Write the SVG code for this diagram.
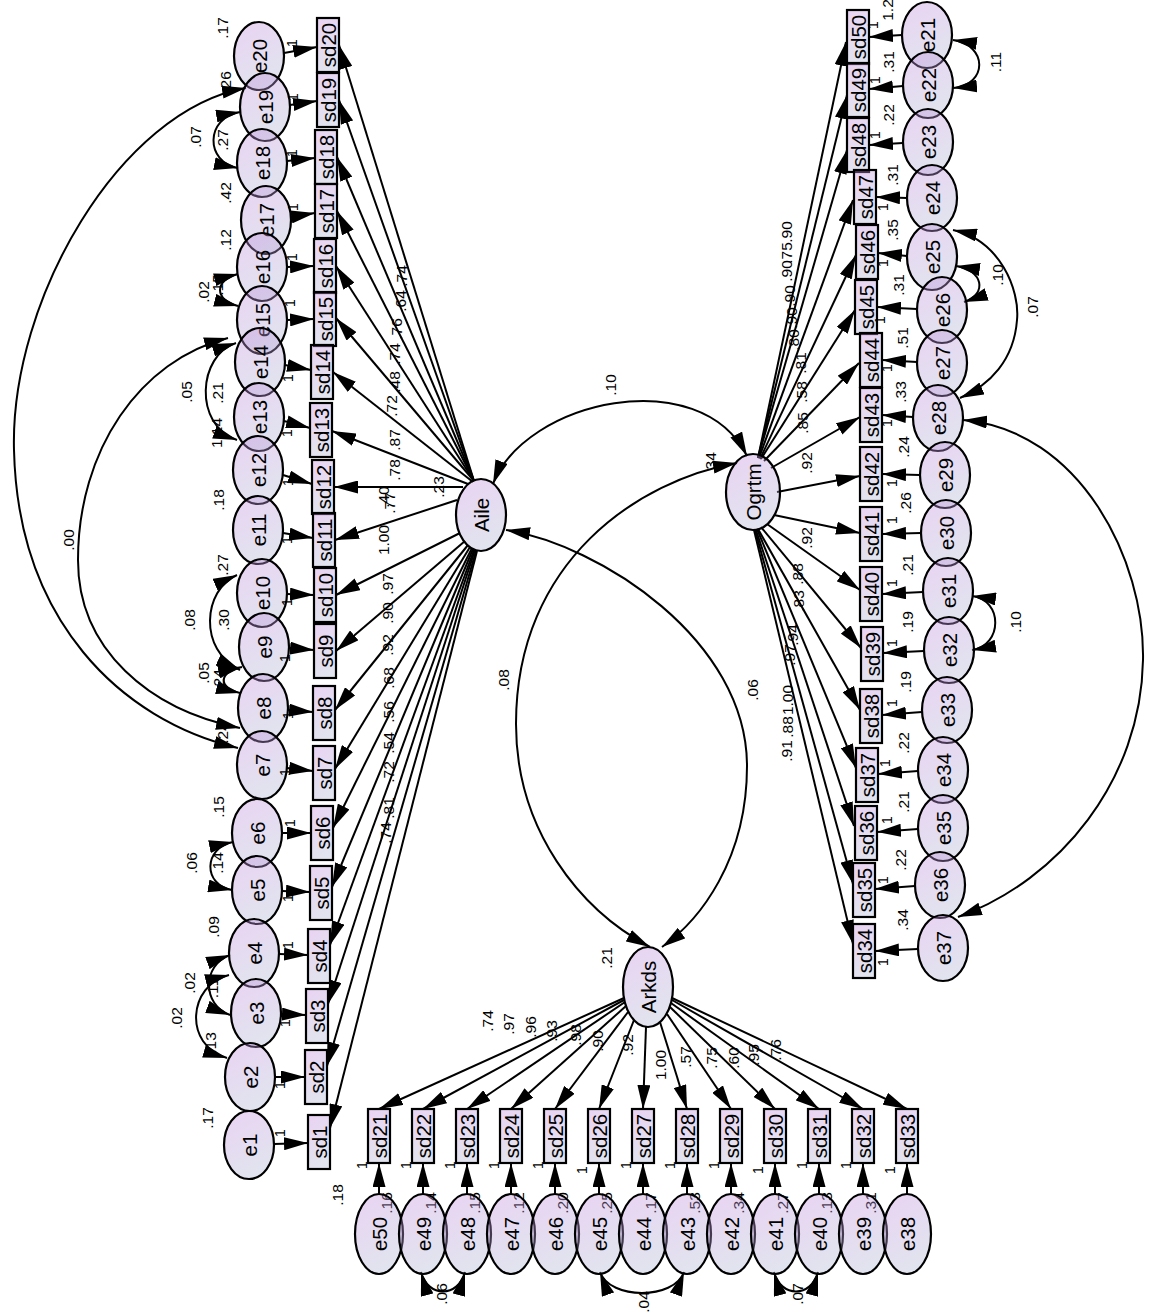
<svg xmlns="http://www.w3.org/2000/svg" width="1150" height="1314" viewBox="0 0 1150 1314">
<style>
.n{fill:url(#gf);stroke:#000;stroke-width:2.2}
.t{font-family:'Liberation Sans',Arial,sans-serif;font-size:20.5px;text-anchor:middle;dominant-baseline:central;fill:#000}
.l{font-family:'Liberation Sans',Arial,sans-serif;font-size:15.5px;text-anchor:middle;dominant-baseline:central;fill:#000}
.o{font-family:'Liberation Sans',Arial,sans-serif;font-size:14px;text-anchor:middle;dominant-baseline:central;fill:#000}
.c{fill:none;stroke:#000;stroke-width:2;marker-end:url(#ah)}
.b{fill:none;stroke:#000;stroke-width:2;marker-start:url(#ah);marker-end:url(#ah)}
</style>
<defs>
<linearGradient id="gf" x1="0" y1="0" x2="0.4" y2="1">
<stop offset="0" stop-color="#c78ae0" stop-opacity="0.38"/>
<stop offset="1" stop-color="#aab0d0" stop-opacity="0.35"/>
</linearGradient>
<marker id="ah" viewBox="0 0 24 13" refX="24" refY="6.5" markerWidth="24" markerHeight="13" markerUnits="userSpaceOnUse" orient="auto-start-reverse"><path d="M0,0 L24,6.5 L0,13 z" fill="#000"/></marker>
</defs>
<rect width="1150" height="1314" fill="#fff"/>
<g id="connectors">
<line class="c" x1="474" y1="481" x2="339" y2="45"/>
<line class="c" x1="474" y1="481" x2="339" y2="100"/>
<line class="c" x1="474" y1="481" x2="337" y2="157"/>
<line class="c" x1="474" y1="481" x2="337" y2="211"/>
<line class="c" x1="474" y1="481" x2="336" y2="266"/>
<line class="c" x1="474" y1="481" x2="336" y2="318"/>
<line class="c" x1="473" y1="482" x2="333" y2="372"/>
<line class="c" x1="468" y1="484" x2="332" y2="431"/>
<line class="c" x1="463" y1="487" x2="334" y2="487"/>
<line class="c" x1="457" y1="500" x2="335" y2="540"/>
<line class="c" x1="460" y1="533" x2="336" y2="595"/>
<line class="c" x1="465" y1="541" x2="336" y2="651"/>
<line class="c" x1="468" y1="545" x2="335" y2="710"/>
<line class="c" x1="470" y1="547" x2="335" y2="769"/>
<line class="c" x1="472" y1="548" x2="333" y2="828"/>
<line class="c" x1="473" y1="549" x2="332" y2="887"/>
<line class="c" x1="474" y1="550" x2="330" y2="945"/>
<line class="c" x1="475" y1="550" x2="328" y2="1004"/>
<line class="c" x1="476" y1="551" x2="327" y2="1066"/>
<line class="c" x1="477" y1="551" x2="330" y2="1128"/>
<line class="c" x1="758" y1="458" x2="846" y2="42"/>
<line class="c" x1="758" y1="458" x2="847" y2="95"/>
<line class="c" x1="758" y1="458" x2="847" y2="150"/>
<line class="c" x1="759" y1="458" x2="853" y2="200"/>
<line class="c" x1="760" y1="459" x2="856" y2="255"/>
<line class="c" x1="761" y1="459" x2="855" y2="310"/>
<line class="c" x1="764" y1="461" x2="859" y2="363"/>
<line class="c" x1="771" y1="468" x2="860" y2="417"/>
<line class="c" x1="777" y1="492" x2="860" y2="476"/>
<line class="c" x1="774" y1="515" x2="860" y2="533"/>
<line class="c" x1="767" y1="524" x2="860" y2="590"/>
<line class="c" x1="761" y1="527" x2="861" y2="648"/>
<line class="c" x1="758" y1="529" x2="860" y2="710"/>
<line class="c" x1="757" y1="529" x2="856" y2="768"/>
<line class="c" x1="756" y1="530" x2="854" y2="826"/>
<line class="c" x1="755" y1="530" x2="853" y2="884"/>
<line class="c" x1="754" y1="530" x2="853" y2="944"/>
<line class="c" x1="624" y1="998" x2="379" y2="1109"/>
<line class="c" x1="624" y1="1000" x2="423" y2="1109"/>
<line class="c" x1="625" y1="1002" x2="467" y2="1109"/>
<line class="c" x1="626" y1="1006" x2="511" y2="1109"/>
<line class="c" x1="628" y1="1012" x2="555" y2="1109"/>
<line class="c" x1="634" y1="1020" x2="599" y2="1109"/>
<line class="c" x1="646" y1="1027" x2="643" y2="1109"/>
<line class="c" x1="660" y1="1022" x2="687" y2="1109"/>
<line class="c" x1="667" y1="1014" x2="731" y2="1109"/>
<line class="c" x1="670" y1="1007" x2="775" y2="1109"/>
<line class="c" x1="671" y1="1003" x2="819" y2="1109"/>
<line class="c" x1="672" y1="1000" x2="863" y2="1109"/>
<line class="c" x1="672" y1="998" x2="907" y2="1109"/>
<line class="c" x1="284" y1="53" x2="317" y2="47"/>
<line class="c" x1="290" y1="105" x2="317" y2="101"/>
<line class="c" x1="287" y1="161" x2="315" y2="158"/>
<line class="c" x1="291" y1="217" x2="315" y2="213"/>
<line class="c" x1="287" y1="267" x2="314" y2="266"/>
<line class="c" x1="287" y1="320" x2="314" y2="319"/>
<line class="c" x1="285" y1="365" x2="311" y2="370"/>
<line class="c" x1="284" y1="421" x2="310" y2="428"/>
<line class="c" x1="283" y1="475" x2="312" y2="484"/>
<line class="c" x1="283" y1="533" x2="313" y2="538"/>
<line class="c" x1="287" y1="594" x2="314" y2="595"/>
<line class="c" x1="289" y1="648" x2="314" y2="650"/>
<line class="c" x1="288" y1="710" x2="313" y2="712"/>
<line class="c" x1="287" y1="768" x2="313" y2="771"/>
<line class="c" x1="282" y1="833" x2="311" y2="833"/>
<line class="c" x1="282" y1="891" x2="310" y2="892"/>
<line class="c" x1="279" y1="954" x2="308" y2="955"/>
<line class="c" x1="281" y1="1014" x2="306" y2="1015"/>
<line class="c" x1="275" y1="1077" x2="305" y2="1077"/>
<line class="c" x1="274" y1="1144" x2="308" y2="1143"/>
<line class="c" x1="902" y1="35" x2="869" y2="37"/>
<line class="c" x1="903" y1="86" x2="869" y2="89"/>
<line class="c" x1="903" y1="143" x2="869" y2="145"/>
<line class="c" x1="907" y1="198" x2="876" y2="197"/>
<line class="c" x1="907" y1="256" x2="878" y2="253"/>
<line class="c" x1="917" y1="309" x2="877" y2="307"/>
<line class="c" x1="917" y1="362" x2="882" y2="360"/>
<line class="c" x1="913" y1="417" x2="882" y2="415"/>
<line class="c" x1="920" y1="475" x2="882" y2="474"/>
<line class="c" x1="921" y1="533" x2="882" y2="534"/>
<line class="c" x1="923" y1="592" x2="882" y2="594"/>
<line class="c" x1="924" y1="651" x2="883" y2="653"/>
<line class="c" x1="922" y1="712" x2="882" y2="715"/>
<line class="c" x1="918" y1="771" x2="878" y2="774"/>
<line class="c" x1="918" y1="829" x2="877" y2="832"/>
<line class="c" x1="915" y1="886" x2="875" y2="889"/>
<line class="c" x1="918" y1="949" x2="875" y2="951"/>
<line class="c" x1="379" y1="1194" x2="379" y2="1163"/>
<line class="c" x1="423" y1="1194" x2="423" y2="1163"/>
<line class="c" x1="467" y1="1194" x2="467" y2="1163"/>
<line class="c" x1="511" y1="1194" x2="511" y2="1163"/>
<line class="c" x1="555" y1="1194" x2="555" y2="1163"/>
<line class="c" x1="599" y1="1194" x2="599" y2="1163"/>
<line class="c" x1="643" y1="1194" x2="643" y2="1163"/>
<line class="c" x1="687" y1="1194" x2="687" y2="1163"/>
<line class="c" x1="731" y1="1194" x2="731" y2="1163"/>
<line class="c" x1="775" y1="1194" x2="775" y2="1163"/>
<line class="c" x1="819" y1="1194" x2="819" y2="1163"/>
<line class="c" x1="863" y1="1194" x2="863" y2="1163"/>
<line class="c" x1="907" y1="1194" x2="907" y2="1163"/>
<path class="b" d="M493,484 C525,400 700,362 747,456"/>
<path class="b" d="M737,463 C640,480 516,560 516,724 C516,830 580,910 650,947"/>
<path class="b" d="M506,530 C600,545 747,640 747,766 C747,860 700,920 662,947"/>
<path class="b" d="M240,112 C205,118 205,162 238,168"/>
<path class="b" d="M246,88 C120,110 10,300 14,450 C18,620 120,720 238,748"/>
<path class="b" d="M228,338 C140,360 78,450 78,560 C78,650 150,710 240,728"/>
<path class="b" d="M238,274 C214,280 214,300 238,306"/>
<path class="b" d="M236,343 C198,355 193,425 237,440"/>
<path class="b" d="M237,575 C203,590 198,650 240,670"/>
<path class="b" d="M242,667 C218,672 218,688 240,693"/>
<path class="b" d="M233,842 C203,848 203,885 232,890"/>
<path class="b" d="M230,955 C202,965 202,1005 230,1015"/>
<path class="b" d="M229,975 C188,985 183,1045 227,1058"/>
<path class="b" d="M953,40 C988,45 988,85 953,88"/>
<path class="b" d="M956,266 C983,270 988,294 964,302"/>
<path class="b" d="M953,230 C1000,240 1020,290 1017,320 C1014,360 990,385 960,398"/>
<path class="b" d="M972,596 C1003,600 1003,645 972,650"/>
<path class="b" d="M963,420 C1080,430 1145,560 1143,660 C1141,780 1060,880 958,917"/>
<path class="b" d="M421,1272 C428,1298 458,1298 465,1272"/>
<path class="b" d="M600,1272 C610,1300 674,1300 684,1272"/>
<path class="b" d="M774,1272 C781,1298 811,1298 818,1272"/>
</g>
<g id="bottom-variance-labels">
<text class="l" x="337" y="1195" transform="rotate(-90 337 1195)">.18</text>
<text class="l" x="386" y="1203" transform="rotate(-90 386 1203)">.16</text>
<text class="l" x="430" y="1203" transform="rotate(-90 430 1203)">.14</text>
<text class="l" x="474" y="1203" transform="rotate(-90 474 1203)">.15</text>
<text class="l" x="518" y="1203" transform="rotate(-90 518 1203)">.12</text>
<text class="l" x="562" y="1203" transform="rotate(-90 562 1203)">.20</text>
<text class="l" x="606" y="1203" transform="rotate(-90 606 1203)">.25</text>
<text class="l" x="650" y="1203" transform="rotate(-90 650 1203)">.17</text>
<text class="l" x="694" y="1203" transform="rotate(-90 694 1203)">.53</text>
<text class="l" x="738" y="1203" transform="rotate(-90 738 1203)">.34</text>
<text class="l" x="782" y="1203" transform="rotate(-90 782 1203)">.27</text>
<text class="l" x="826" y="1203" transform="rotate(-90 826 1203)">.13</text>
<text class="l" x="870" y="1203" transform="rotate(-90 870 1203)">.31</text>
</g>
<g id="Aile"><ellipse class="n" cx="481" cy="515" rx="25" ry="36"/><text class="t" x="481" y="515" transform="rotate(-90 481 515)">Aile</text></g>
<g id="Ogrtm"><ellipse class="n" cx="753" cy="492" rx="27" ry="38"/><text class="t" x="753" y="492" transform="rotate(-90 753 492)">Ogrtm</text></g>
<g id="Arkds"><ellipse class="n" cx="648" cy="987" rx="25" ry="40"/><text class="t" x="648" y="987" transform="rotate(-90 648 987)">Arkds</text></g>
<g id="e20"><ellipse class="n" cx="259" cy="56" rx="25" ry="34"/><text class="t" x="259" y="56" transform="rotate(-90 259 56)">e20</text></g>
<g id="e19"><ellipse class="n" cx="265" cy="107" rx="25" ry="34"/><text class="t" x="265" y="107" transform="rotate(-90 265 107)">e19</text></g>
<g id="e18"><ellipse class="n" cx="262" cy="163" rx="25" ry="34"/><text class="t" x="262" y="163" transform="rotate(-90 262 163)">e18</text></g>
<g id="e17"><ellipse class="n" cx="266" cy="220" rx="25" ry="34"/><text class="t" x="266" y="220" transform="rotate(-90 266 220)">e17</text></g>
<g id="e16"><ellipse class="n" cx="262" cy="267" rx="25" ry="34"/><text class="t" x="262" y="267" transform="rotate(-90 262 267)">e16</text></g>
<g id="e15"><ellipse class="n" cx="262" cy="320" rx="25" ry="34"/><text class="t" x="262" y="320" transform="rotate(-90 262 320)">e15</text></g>
<g id="e14"><ellipse class="n" cx="260" cy="362" rx="25" ry="34"/><text class="t" x="260" y="362" transform="rotate(-90 260 362)">e14</text></g>
<g id="e13"><ellipse class="n" cx="259" cy="417" rx="25" ry="34"/><text class="t" x="259" y="417" transform="rotate(-90 259 417)">e13</text></g>
<g id="e12"><ellipse class="n" cx="258" cy="470" rx="25" ry="34"/><text class="t" x="258" y="470" transform="rotate(-90 258 470)">e12</text></g>
<g id="e11"><ellipse class="n" cx="258" cy="530" rx="25" ry="34"/><text class="t" x="258" y="530" transform="rotate(-90 258 530)">e11</text></g>
<g id="e10"><ellipse class="n" cx="262" cy="593" rx="25" ry="34"/><text class="t" x="262" y="593" transform="rotate(-90 262 593)">e10</text></g>
<g id="e9"><ellipse class="n" cx="264" cy="647" rx="25" ry="34"/><text class="t" x="264" y="647" transform="rotate(-90 264 647)">e9</text></g>
<g id="e8"><ellipse class="n" cx="263" cy="708" rx="25" ry="34"/><text class="t" x="263" y="708" transform="rotate(-90 263 708)">e8</text></g>
<g id="e7"><ellipse class="n" cx="262" cy="765" rx="25" ry="34"/><text class="t" x="262" y="765" transform="rotate(-90 262 765)">e7</text></g>
<g id="e6"><ellipse class="n" cx="257" cy="833" rx="25" ry="34"/><text class="t" x="257" y="833" transform="rotate(-90 257 833)">e6</text></g>
<g id="e5"><ellipse class="n" cx="257" cy="890" rx="25" ry="34"/><text class="t" x="257" y="890" transform="rotate(-90 257 890)">e5</text></g>
<g id="e4"><ellipse class="n" cx="254" cy="953" rx="25" ry="34"/><text class="t" x="254" y="953" transform="rotate(-90 254 953)">e4</text></g>
<g id="e3"><ellipse class="n" cx="256" cy="1013" rx="25" ry="34"/><text class="t" x="256" y="1013" transform="rotate(-90 256 1013)">e3</text></g>
<g id="e2"><ellipse class="n" cx="250" cy="1077" rx="25" ry="34"/><text class="t" x="250" y="1077" transform="rotate(-90 250 1077)">e2</text></g>
<g id="e1"><ellipse class="n" cx="249" cy="1145" rx="25" ry="34"/><text class="t" x="249" y="1145" transform="rotate(-90 249 1145)">e1</text></g>
<g id="sd20"><rect class="n" x="317" y="18" width="22" height="54"/><text class="t" x="328" y="45" transform="rotate(-90 328 45)">sd20</text></g>
<g id="sd19"><rect class="n" x="317" y="73" width="22" height="54"/><text class="t" x="328" y="100" transform="rotate(-90 328 100)">sd19</text></g>
<g id="sd18"><rect class="n" x="315" y="130" width="22" height="54"/><text class="t" x="326" y="157" transform="rotate(-90 326 157)">sd18</text></g>
<g id="sd17"><rect class="n" x="315" y="184" width="22" height="54"/><text class="t" x="326" y="211" transform="rotate(-90 326 211)">sd17</text></g>
<g id="sd16"><rect class="n" x="314" y="239" width="22" height="54"/><text class="t" x="325" y="266" transform="rotate(-90 325 266)">sd16</text></g>
<g id="sd15"><rect class="n" x="314" y="292" width="22" height="54"/><text class="t" x="325" y="319" transform="rotate(-90 325 319)">sd15</text></g>
<g id="sd14"><rect class="n" x="311" y="345" width="22" height="54"/><text class="t" x="322" y="372" transform="rotate(-90 322 372)">sd14</text></g>
<g id="sd13"><rect class="n" x="310" y="403" width="22" height="54"/><text class="t" x="321" y="430" transform="rotate(-90 321 430)">sd13</text></g>
<g id="sd12"><rect class="n" x="312" y="460" width="22" height="54"/><text class="t" x="323" y="487" transform="rotate(-90 323 487)">sd12</text></g>
<g id="sd11"><rect class="n" x="313" y="513" width="22" height="54"/><text class="t" x="324" y="540" transform="rotate(-90 324 540)">sd11</text></g>
<g id="sd10"><rect class="n" x="314" y="568" width="22" height="54"/><text class="t" x="325" y="595" transform="rotate(-90 325 595)">sd10</text></g>
<g id="sd9"><rect class="n" x="314" y="624" width="22" height="54"/><text class="t" x="325" y="651" transform="rotate(-90 325 651)">sd9</text></g>
<g id="sd8"><rect class="n" x="313" y="686" width="22" height="54"/><text class="t" x="324" y="713" transform="rotate(-90 324 713)">sd8</text></g>
<g id="sd7"><rect class="n" x="313" y="746" width="22" height="54"/><text class="t" x="324" y="773" transform="rotate(-90 324 773)">sd7</text></g>
<g id="sd6"><rect class="n" x="311" y="806" width="22" height="54"/><text class="t" x="322" y="833" transform="rotate(-90 322 833)">sd6</text></g>
<g id="sd5"><rect class="n" x="310" y="866" width="22" height="54"/><text class="t" x="321" y="893" transform="rotate(-90 321 893)">sd5</text></g>
<g id="sd4"><rect class="n" x="308" y="929" width="22" height="54"/><text class="t" x="319" y="956" transform="rotate(-90 319 956)">sd4</text></g>
<g id="sd3"><rect class="n" x="306" y="989" width="22" height="54"/><text class="t" x="317" y="1016" transform="rotate(-90 317 1016)">sd3</text></g>
<g id="sd2"><rect class="n" x="305" y="1050" width="22" height="54"/><text class="t" x="316" y="1077" transform="rotate(-90 316 1077)">sd2</text></g>
<g id="sd1"><rect class="n" x="308" y="1115" width="22" height="54"/><text class="t" x="319" y="1142" transform="rotate(-90 319 1142)">sd1</text></g>
<g id="sd50"><rect class="n" x="847" y="10" width="22" height="54"/><text class="t" x="858" y="37" transform="rotate(-90 858 37)">sd50</text></g>
<g id="sd49"><rect class="n" x="847" y="63" width="22" height="54"/><text class="t" x="858" y="90" transform="rotate(-90 858 90)">sd49</text></g>
<g id="sd48"><rect class="n" x="847" y="118" width="22" height="54"/><text class="t" x="858" y="145" transform="rotate(-90 858 145)">sd48</text></g>
<g id="sd47"><rect class="n" x="854" y="170" width="22" height="54"/><text class="t" x="865" y="197" transform="rotate(-90 865 197)">sd47</text></g>
<g id="sd46"><rect class="n" x="856" y="225" width="22" height="54"/><text class="t" x="867" y="252" transform="rotate(-90 867 252)">sd46</text></g>
<g id="sd45"><rect class="n" x="855" y="280" width="22" height="54"/><text class="t" x="866" y="307" transform="rotate(-90 866 307)">sd45</text></g>
<g id="sd44"><rect class="n" x="860" y="333" width="22" height="54"/><text class="t" x="871" y="360" transform="rotate(-90 871 360)">sd44</text></g>
<g id="sd43"><rect class="n" x="860" y="388" width="22" height="54"/><text class="t" x="871" y="415" transform="rotate(-90 871 415)">sd43</text></g>
<g id="sd42"><rect class="n" x="860" y="447" width="22" height="54"/><text class="t" x="871" y="474" transform="rotate(-90 871 474)">sd42</text></g>
<g id="sd41"><rect class="n" x="860" y="507" width="22" height="54"/><text class="t" x="871" y="534" transform="rotate(-90 871 534)">sd41</text></g>
<g id="sd40"><rect class="n" x="860" y="567" width="22" height="54"/><text class="t" x="871" y="594" transform="rotate(-90 871 594)">sd40</text></g>
<g id="sd39"><rect class="n" x="861" y="627" width="22" height="54"/><text class="t" x="872" y="654" transform="rotate(-90 872 654)">sd39</text></g>
<g id="sd38"><rect class="n" x="860" y="689" width="22" height="54"/><text class="t" x="871" y="716" transform="rotate(-90 871 716)">sd38</text></g>
<g id="sd37"><rect class="n" x="856" y="748" width="22" height="54"/><text class="t" x="867" y="775" transform="rotate(-90 867 775)">sd37</text></g>
<g id="sd36"><rect class="n" x="855" y="806" width="22" height="54"/><text class="t" x="866" y="833" transform="rotate(-90 866 833)">sd36</text></g>
<g id="sd35"><rect class="n" x="853" y="863" width="22" height="54"/><text class="t" x="864" y="890" transform="rotate(-90 864 890)">sd35</text></g>
<g id="sd34"><rect class="n" x="853" y="924" width="22" height="54"/><text class="t" x="864" y="951" transform="rotate(-90 864 951)">sd34</text></g>
<g id="e21"><ellipse class="n" cx="927" cy="35" rx="25" ry="33"/><text class="t" x="927" y="35" transform="rotate(-90 927 35)">e21</text></g>
<g id="e22"><ellipse class="n" cx="928" cy="85" rx="25" ry="33"/><text class="t" x="928" y="85" transform="rotate(-90 928 85)">e22</text></g>
<g id="e23"><ellipse class="n" cx="928" cy="142" rx="25" ry="33"/><text class="t" x="928" y="142" transform="rotate(-90 928 142)">e23</text></g>
<g id="e24"><ellipse class="n" cx="932" cy="198" rx="25" ry="33"/><text class="t" x="932" y="198" transform="rotate(-90 932 198)">e24</text></g>
<g id="e25"><ellipse class="n" cx="932" cy="257" rx="25" ry="33"/><text class="t" x="932" y="257" transform="rotate(-90 932 257)">e25</text></g>
<g id="e26"><ellipse class="n" cx="942" cy="310" rx="25" ry="33"/><text class="t" x="942" y="310" transform="rotate(-90 942 310)">e26</text></g>
<g id="e27"><ellipse class="n" cx="942" cy="363" rx="25" ry="33"/><text class="t" x="942" y="363" transform="rotate(-90 942 363)">e27</text></g>
<g id="e28"><ellipse class="n" cx="938" cy="418" rx="25" ry="33"/><text class="t" x="938" y="418" transform="rotate(-90 938 418)">e28</text></g>
<g id="e29"><ellipse class="n" cx="945" cy="475" rx="25" ry="33"/><text class="t" x="945" y="475" transform="rotate(-90 945 475)">e29</text></g>
<g id="e30"><ellipse class="n" cx="946" cy="533" rx="25" ry="33"/><text class="t" x="946" y="533" transform="rotate(-90 946 533)">e30</text></g>
<g id="e31"><ellipse class="n" cx="948" cy="591" rx="25" ry="33"/><text class="t" x="948" y="591" transform="rotate(-90 948 591)">e31</text></g>
<g id="e32"><ellipse class="n" cx="949" cy="650" rx="25" ry="33"/><text class="t" x="949" y="650" transform="rotate(-90 949 650)">e32</text></g>
<g id="e33"><ellipse class="n" cx="947" cy="710" rx="25" ry="33"/><text class="t" x="947" y="710" transform="rotate(-90 947 710)">e33</text></g>
<g id="e34"><ellipse class="n" cx="943" cy="770" rx="25" ry="33"/><text class="t" x="943" y="770" transform="rotate(-90 943 770)">e34</text></g>
<g id="e35"><ellipse class="n" cx="943" cy="828" rx="25" ry="33"/><text class="t" x="943" y="828" transform="rotate(-90 943 828)">e35</text></g>
<g id="e36"><ellipse class="n" cx="940" cy="885" rx="25" ry="33"/><text class="t" x="940" y="885" transform="rotate(-90 940 885)">e36</text></g>
<g id="e37"><ellipse class="n" cx="943" cy="948" rx="25" ry="33"/><text class="t" x="943" y="948" transform="rotate(-90 943 948)">e37</text></g>
<g id="sd21"><rect class="n" x="368" y="1109" width="22" height="54"/><text class="t" x="379" y="1136" transform="rotate(-90 379 1136)">sd21</text></g>
<g id="sd22"><rect class="n" x="412" y="1109" width="22" height="54"/><text class="t" x="423" y="1136" transform="rotate(-90 423 1136)">sd22</text></g>
<g id="sd23"><rect class="n" x="456" y="1109" width="22" height="54"/><text class="t" x="467" y="1136" transform="rotate(-90 467 1136)">sd23</text></g>
<g id="sd24"><rect class="n" x="500" y="1109" width="22" height="54"/><text class="t" x="511" y="1136" transform="rotate(-90 511 1136)">sd24</text></g>
<g id="sd25"><rect class="n" x="544" y="1109" width="22" height="54"/><text class="t" x="555" y="1136" transform="rotate(-90 555 1136)">sd25</text></g>
<g id="sd26"><rect class="n" x="588" y="1109" width="22" height="54"/><text class="t" x="599" y="1136" transform="rotate(-90 599 1136)">sd26</text></g>
<g id="sd27"><rect class="n" x="632" y="1109" width="22" height="54"/><text class="t" x="643" y="1136" transform="rotate(-90 643 1136)">sd27</text></g>
<g id="sd28"><rect class="n" x="676" y="1109" width="22" height="54"/><text class="t" x="687" y="1136" transform="rotate(-90 687 1136)">sd28</text></g>
<g id="sd29"><rect class="n" x="720" y="1109" width="22" height="54"/><text class="t" x="731" y="1136" transform="rotate(-90 731 1136)">sd29</text></g>
<g id="sd30"><rect class="n" x="764" y="1109" width="22" height="54"/><text class="t" x="775" y="1136" transform="rotate(-90 775 1136)">sd30</text></g>
<g id="sd31"><rect class="n" x="808" y="1109" width="22" height="54"/><text class="t" x="819" y="1136" transform="rotate(-90 819 1136)">sd31</text></g>
<g id="sd32"><rect class="n" x="852" y="1109" width="22" height="54"/><text class="t" x="863" y="1136" transform="rotate(-90 863 1136)">sd32</text></g>
<g id="sd33"><rect class="n" x="896" y="1109" width="22" height="54"/><text class="t" x="907" y="1136" transform="rotate(-90 907 1136)">sd33</text></g>
<g id="e50"><ellipse class="n" cx="379" cy="1234" rx="24" ry="40"/><text class="t" x="379" y="1234" transform="rotate(-90 379 1234)">e50</text></g>
<g id="e49"><ellipse class="n" cx="423" cy="1234" rx="24" ry="40"/><text class="t" x="423" y="1234" transform="rotate(-90 423 1234)">e49</text></g>
<g id="e48"><ellipse class="n" cx="467" cy="1234" rx="24" ry="40"/><text class="t" x="467" y="1234" transform="rotate(-90 467 1234)">e48</text></g>
<g id="e47"><ellipse class="n" cx="511" cy="1234" rx="24" ry="40"/><text class="t" x="511" y="1234" transform="rotate(-90 511 1234)">e47</text></g>
<g id="e46"><ellipse class="n" cx="555" cy="1234" rx="24" ry="40"/><text class="t" x="555" y="1234" transform="rotate(-90 555 1234)">e46</text></g>
<g id="e45"><ellipse class="n" cx="599" cy="1234" rx="24" ry="40"/><text class="t" x="599" y="1234" transform="rotate(-90 599 1234)">e45</text></g>
<g id="e44"><ellipse class="n" cx="643" cy="1234" rx="24" ry="40"/><text class="t" x="643" y="1234" transform="rotate(-90 643 1234)">e44</text></g>
<g id="e43"><ellipse class="n" cx="687" cy="1234" rx="24" ry="40"/><text class="t" x="687" y="1234" transform="rotate(-90 687 1234)">e43</text></g>
<g id="e42"><ellipse class="n" cx="731" cy="1234" rx="24" ry="40"/><text class="t" x="731" y="1234" transform="rotate(-90 731 1234)">e42</text></g>
<g id="e41"><ellipse class="n" cx="775" cy="1234" rx="24" ry="40"/><text class="t" x="775" y="1234" transform="rotate(-90 775 1234)">e41</text></g>
<g id="e40"><ellipse class="n" cx="819" cy="1234" rx="24" ry="40"/><text class="t" x="819" y="1234" transform="rotate(-90 819 1234)">e40</text></g>
<g id="e39"><ellipse class="n" cx="863" cy="1234" rx="24" ry="40"/><text class="t" x="863" y="1234" transform="rotate(-90 863 1234)">e39</text></g>
<g id="e38"><ellipse class="n" cx="907" cy="1234" rx="24" ry="40"/><text class="t" x="907" y="1234" transform="rotate(-90 907 1234)">e38</text></g>
<g id="labels">
<text class="l" x="401" y="276" transform="rotate(-90 401 276)">.74</text>
<text class="l" x="400" y="301" transform="rotate(-90 400 301)">.64</text>
<text class="l" x="396" y="329" transform="rotate(-90 396 329)">.76</text>
<text class="l" x="394" y="354" transform="rotate(-90 394 354)">.74</text>
<text class="l" x="394" y="382" transform="rotate(-90 394 382)">.48</text>
<text class="l" x="391" y="406" transform="rotate(-90 391 406)">.72</text>
<text class="l" x="394" y="440" transform="rotate(-90 394 440)">.87</text>
<text class="l" x="394" y="470" transform="rotate(-90 394 470)">.78</text>
<text class="l" x="383" y="497" transform="rotate(-90 383 497)">.40</text>
<text class="l" x="389" y="503" transform="rotate(-90 389 503)">.77</text>
<text class="l" x="383" y="540" transform="rotate(-90 383 540)">1.00</text>
<text class="l" x="387" y="584" transform="rotate(-90 387 584)">.97</text>
<text class="l" x="387" y="613" transform="rotate(-90 387 613)">.90</text>
<text class="l" x="387" y="645" transform="rotate(-90 387 645)">.92</text>
<text class="l" x="388" y="678" transform="rotate(-90 388 678)">.68</text>
<text class="l" x="388" y="712" transform="rotate(-90 388 712)">.56</text>
<text class="l" x="388" y="743" transform="rotate(-90 388 743)">.54</text>
<text class="l" x="388" y="772" transform="rotate(-90 388 772)">.72</text>
<text class="l" x="388" y="808" transform="rotate(-90 388 808)">.81</text>
<text class="l" x="385" y="833" transform="rotate(-90 385 833)">.74</text>
<text class="l" x="438" y="487" transform="rotate(-90 438 487)">.23</text>
<text class="l" x="710" y="463" transform="rotate(-90 710 463)">.34</text>
<text class="l" x="606" y="958" transform="rotate(-90 606 958)">.21</text>
<text class="l" x="610" y="385" transform="rotate(-90 610 385)">.10</text>
<text class="l" x="503" y="680" transform="rotate(-90 503 680)">.08</text>
<text class="l" x="752" y="690" transform="rotate(-90 752 690)">.06</text>
<text class="l" x="786" y="232" transform="rotate(-90 786 232)">.90</text>
<text class="l" x="786" y="253" transform="rotate(-90 786 253)">.75</text>
<text class="l" x="786" y="271" transform="rotate(-90 786 271)">.90</text>
<text class="l" x="789" y="296" transform="rotate(-90 789 296)">.90</text>
<text class="l" x="791" y="318" transform="rotate(-90 791 318)">.90</text>
<text class="l" x="793" y="340" transform="rotate(-90 793 340)">.80</text>
<text class="l" x="800" y="363" transform="rotate(-90 800 363)">.81</text>
<text class="l" x="801" y="392" transform="rotate(-90 801 392)">.58</text>
<text class="l" x="802" y="423" transform="rotate(-90 802 423)">.85</text>
<text class="l" x="806" y="463" transform="rotate(-90 806 463)">.92</text>
<text class="l" x="806" y="538" transform="rotate(-90 806 538)">.92</text>
<text class="l" x="797" y="574" transform="rotate(-90 797 574)">.88</text>
<text class="l" x="798" y="601" transform="rotate(-90 798 601)">.83</text>
<text class="l" x="792" y="635" transform="rotate(-90 792 635)">.94</text>
<text class="l" x="789" y="655" transform="rotate(-90 789 655)">.97</text>
<text class="l" x="787" y="700" transform="rotate(-90 787 700)">1.00</text>
<text class="l" x="787" y="727" transform="rotate(-90 787 727)">.88</text>
<text class="l" x="786" y="751" transform="rotate(-90 786 751)">.91</text>
<text class="l" x="487" y="1021" transform="rotate(-90 487 1021)">.74</text>
<text class="l" x="508" y="1024" transform="rotate(-90 508 1024)">.97</text>
<text class="l" x="530" y="1027" transform="rotate(-90 530 1027)">.96</text>
<text class="l" x="551" y="1031" transform="rotate(-90 551 1031)">.93</text>
<text class="l" x="575" y="1035" transform="rotate(-90 575 1035)">.98</text>
<text class="l" x="597" y="1041" transform="rotate(-90 597 1041)">.90</text>
<text class="l" x="627" y="1045" transform="rotate(-90 627 1045)">.92</text>
<text class="l" x="660" y="1065" transform="rotate(-90 660 1065)">1.00</text>
<text class="l" x="685" y="1057" transform="rotate(-90 685 1057)">.57</text>
<text class="l" x="711" y="1058" transform="rotate(-90 711 1058)">.75</text>
<text class="l" x="733" y="1058" transform="rotate(-90 733 1058)">.60</text>
<text class="l" x="753" y="1055" transform="rotate(-90 753 1055)">.95</text>
<text class="l" x="775" y="1050" transform="rotate(-90 775 1050)">.76</text>
<text class="l" x="222" y="28" transform="rotate(-90 222 28)">.17</text>
<text class="l" x="225" y="82" transform="rotate(-90 225 82)">.26</text>
<text class="l" x="222" y="140" transform="rotate(-90 222 140)">.27</text>
<text class="l" x="225" y="193" transform="rotate(-90 225 193)">.42</text>
<text class="l" x="225" y="240" transform="rotate(-90 225 240)">.12</text>
<text class="l" x="217" y="285" transform="rotate(-90 217 285)">.15</text>
<text class="l" x="217" y="393" transform="rotate(-90 217 393)">.21</text>
<text class="l" x="216" y="433" transform="rotate(-90 216 433)">1.14</text>
<text class="l" x="218" y="500" transform="rotate(-90 218 500)">.18</text>
<text class="l" x="222" y="565" transform="rotate(-90 222 565)">.27</text>
<text class="l" x="223" y="620" transform="rotate(-90 223 620)">.30</text>
<text class="l" x="218" y="680" transform="rotate(-90 218 680)">.24</text>
<text class="l" x="222" y="733" transform="rotate(-90 222 733)">.24</text>
<text class="l" x="218" y="807" transform="rotate(-90 218 807)">.15</text>
<text class="l" x="217" y="863" transform="rotate(-90 217 863)">.14</text>
<text class="l" x="213" y="927" transform="rotate(-90 213 927)">.09</text>
<text class="l" x="212" y="988" transform="rotate(-90 212 988)">.11</text>
<text class="l" x="210" y="1043" transform="rotate(-90 210 1043)">.13</text>
<text class="l" x="207" y="1118" transform="rotate(-90 207 1118)">.17</text>
<text class="l" x="195" y="137" transform="rotate(-90 195 137)">.07</text>
<text class="l" x="203" y="292" transform="rotate(-90 203 292)">.02</text>
<text class="l" x="186" y="392" transform="rotate(-90 186 392)">.05</text>
<text class="l" x="68" y="540" transform="rotate(-90 68 540)">.00</text>
<text class="l" x="189" y="620" transform="rotate(-90 189 620)">.08</text>
<text class="l" x="203" y="673" transform="rotate(-90 203 673)">.05</text>
<text class="l" x="191" y="863" transform="rotate(-90 191 863)">.06</text>
<text class="l" x="189" y="983" transform="rotate(-90 189 983)">.02</text>
<text class="l" x="176" y="1018" transform="rotate(-90 176 1018)">.02</text>
<text class="l" x="887" y="10" transform="rotate(-90 887 10)">1.2</text>
<text class="l" x="888" y="62" transform="rotate(-90 888 62)">.31</text>
<text class="l" x="888" y="115" transform="rotate(-90 888 115)">.22</text>
<text class="l" x="892" y="175" transform="rotate(-90 892 175)">.31</text>
<text class="l" x="892" y="230" transform="rotate(-90 892 230)">.35</text>
<text class="l" x="898" y="285" transform="rotate(-90 898 285)">.31</text>
<text class="l" x="902" y="338" transform="rotate(-90 902 338)">.51</text>
<text class="l" x="900" y="392" transform="rotate(-90 900 392)">.33</text>
<text class="l" x="903" y="447" transform="rotate(-90 903 447)">.24</text>
<text class="l" x="905" y="503" transform="rotate(-90 905 503)">.26</text>
<text class="l" x="907" y="565" transform="rotate(-90 907 565)">.21</text>
<text class="l" x="907" y="622" transform="rotate(-90 907 622)">.19</text>
<text class="l" x="905" y="682" transform="rotate(-90 905 682)">.19</text>
<text class="l" x="903" y="743" transform="rotate(-90 903 743)">.22</text>
<text class="l" x="903" y="802" transform="rotate(-90 903 802)">.21</text>
<text class="l" x="900" y="860" transform="rotate(-90 900 860)">.22</text>
<text class="l" x="902" y="920" transform="rotate(-90 902 920)">.34</text>
<text class="l" x="995" y="62" transform="rotate(-90 995 62)">.11</text>
<text class="l" x="997" y="275" transform="rotate(-90 997 275)">.10</text>
<text class="l" x="1032" y="307" transform="rotate(-90 1032 307)">.07</text>
<text class="l" x="1015" y="622" transform="rotate(-90 1015 622)">.10</text>
<text class="l" x="441" y="1294" transform="rotate(-90 441 1294)">.06</text>
<text class="l" x="643" y="1302" transform="rotate(-90 643 1302)">.04</text>
<text class="l" x="797" y="1294" transform="rotate(-90 797 1294)">.07</text>
<text class="o" x="292" y="43" transform="rotate(-90 292 43)">1</text>
<text class="o" x="293" y="97" transform="rotate(-90 293 97)">1</text>
<text class="o" x="292" y="153" transform="rotate(-90 292 153)">1</text>
<text class="o" x="293" y="207" transform="rotate(-90 293 207)">1</text>
<text class="o" x="292" y="257" transform="rotate(-90 292 257)">1</text>
<text class="o" x="290" y="303" transform="rotate(-90 290 303)">1</text>
<text class="o" x="288" y="378" transform="rotate(-90 288 378)">1</text>
<text class="o" x="287" y="433" transform="rotate(-90 287 433)">1</text>
<text class="o" x="288" y="482" transform="rotate(-90 288 482)">1</text>
<text class="o" x="287" y="540" transform="rotate(-90 287 540)">1</text>
<text class="o" x="287" y="602" transform="rotate(-90 287 602)">1</text>
<text class="o" x="285" y="658" transform="rotate(-90 285 658)">1</text>
<text class="o" x="288" y="715" transform="rotate(-90 288 715)">1</text>
<text class="o" x="285" y="772" transform="rotate(-90 285 772)">1</text>
<text class="o" x="290" y="823" transform="rotate(-90 290 823)">1</text>
<text class="o" x="288" y="898" transform="rotate(-90 288 898)">1</text>
<text class="o" x="288" y="945" transform="rotate(-90 288 945)">1</text>
<text class="o" x="285" y="1023" transform="rotate(-90 285 1023)">1</text>
<text class="o" x="280" y="1085" transform="rotate(-90 280 1085)">1</text>
<text class="o" x="280" y="1133" transform="rotate(-90 280 1133)">1</text>
<text class="o" x="873" y="25" transform="rotate(-90 873 25)">1</text>
<text class="o" x="875" y="80" transform="rotate(-90 875 80)">1</text>
<text class="o" x="875" y="135" transform="rotate(-90 875 135)">1</text>
<text class="o" x="883" y="207" transform="rotate(-90 883 207)">1</text>
<text class="o" x="883" y="263" transform="rotate(-90 883 263)">1</text>
<text class="o" x="880" y="320" transform="rotate(-90 880 320)">1</text>
<text class="o" x="887" y="368" transform="rotate(-90 887 368)">1</text>
<text class="o" x="887" y="423" transform="rotate(-90 887 423)">1</text>
<text class="o" x="892" y="483" transform="rotate(-90 892 483)">1</text>
<text class="o" x="892" y="520" transform="rotate(-90 892 520)">1</text>
<text class="o" x="892" y="583" transform="rotate(-90 892 583)">1</text>
<text class="o" x="892" y="643" transform="rotate(-90 892 643)">1</text>
<text class="o" x="892" y="703" transform="rotate(-90 892 703)">1</text>
<text class="o" x="885" y="763" transform="rotate(-90 885 763)">1</text>
<text class="o" x="887" y="820" transform="rotate(-90 887 820)">1</text>
<text class="o" x="883" y="880" transform="rotate(-90 883 880)">1</text>
<text class="o" x="883" y="962" transform="rotate(-90 883 962)">1</text>
<text class="o" x="362" y="1165" transform="rotate(-90 362 1165)">1</text>
<text class="o" x="406" y="1165" transform="rotate(-90 406 1165)">1</text>
<text class="o" x="450" y="1165" transform="rotate(-90 450 1165)">1</text>
<text class="o" x="494" y="1165" transform="rotate(-90 494 1165)">1</text>
<text class="o" x="538" y="1165" transform="rotate(-90 538 1165)">1</text>
<text class="o" x="582" y="1170" transform="rotate(-90 582 1170)">1</text>
<text class="o" x="626" y="1165" transform="rotate(-90 626 1165)">1</text>
<text class="o" x="670" y="1165" transform="rotate(-90 670 1165)">1</text>
<text class="o" x="714" y="1165" transform="rotate(-90 714 1165)">1</text>
<text class="o" x="758" y="1170" transform="rotate(-90 758 1170)">1</text>
<text class="o" x="802" y="1165" transform="rotate(-90 802 1165)">1</text>
<text class="o" x="846" y="1165" transform="rotate(-90 846 1165)">1</text>
<text class="o" x="890" y="1170" transform="rotate(-90 890 1170)">1</text>
</g>
</svg>
